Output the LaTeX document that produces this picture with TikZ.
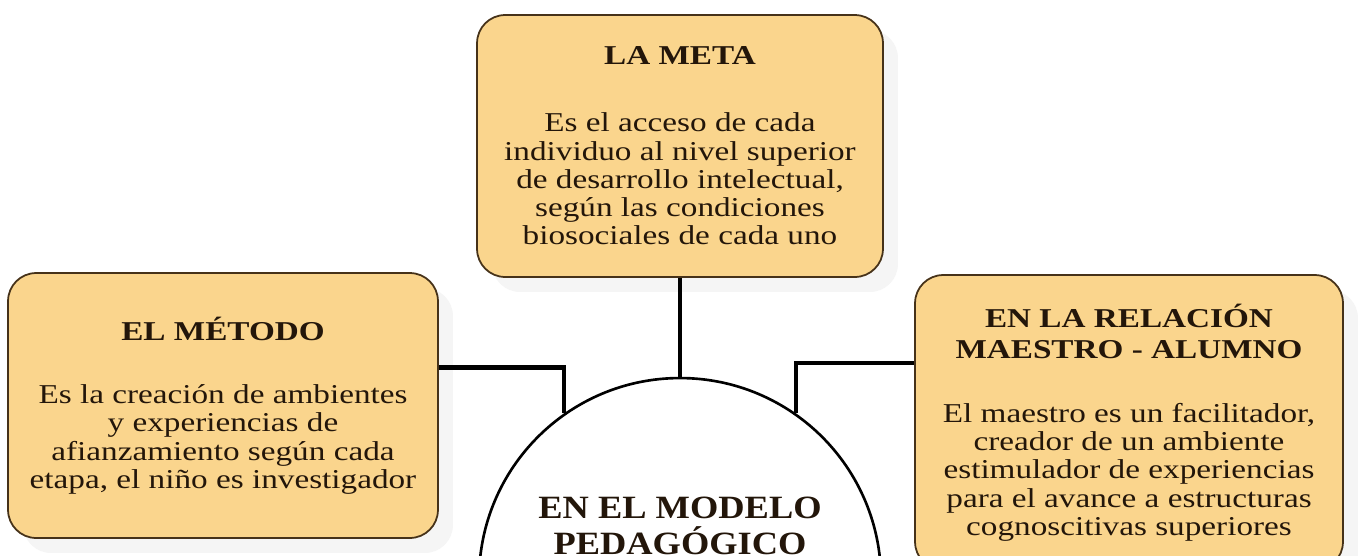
\documentclass[tikz,border=0pt]{standalone}
\usepackage{fontspec}
\setmainfont{Liberation Serif}[FakeStretch=1.22]
\newfontfamily\circulofont{Liberation Serif}[FakeStretch=1.12]
\usetikzlibrary{positioning,shadows}

\definecolor{cajafondo}{RGB}{250,213,141}
\definecolor{cajaborde}{RGB}{70,50,25}
\definecolor{texto}{RGB}{35,22,10}

\begin{document}
\begin{tikzpicture}[
    x=0.02cm, y=-0.02cm,
    caja/.style={rectangle, draw=cajaborde, line width=1pt, rounded corners=16pt,
        fill=cajafondo, text=texto, align=center, inner sep=0pt,
        font=\fontsize{15.5}{16.1}\selectfont,
        drop shadow={shadow xshift=0.3cm, shadow yshift=-0.3cm, fill=black!4, opacity=1}},
    centro/.style={circle, draw=black, line width=1.5pt, fill=white, minimum size=8.04cm, inner sep=0pt},
    titulo/.style={align=center, inner sep=0pt, text=texto, font=\circulofont\fontsize{18.5}{20.5}\selectfont\bfseries},
    conector/.style={line width=2.6pt, black}
]
\useasboundingbox (0,0) rectangle (1362,555);
\clip (0,0) rectangle (1362,555);
\fill[white] (0,0) rectangle (1362,555);

% Cajas
\node[caja, minimum width=8.12cm, minimum height=5.24cm] (meta) at (680,146)
    {\textbf{LA META}\\[22pt] Es el acceso de cada\\ individuo al nivel superior\\ de desarrollo intelectual,\\ según las condiciones\\ biosociales de cada uno};
\node[caja, minimum width=8.6cm, minimum height=5.3cm] (metodo) at (223,405.5)
    {\textbf{EL MÉTODO}\\[20pt] Es la creación de ambientes\\ y experiencias de\\ afianzamiento según cada\\ etapa, el niño es investigador};
\node[caja, minimum width=8.56cm, minimum height=5.9cm] (relacion) at (1129,422.5)
    {\textbf{EN LA RELACIÓN}\\[2pt] \textbf{MAESTRO - ALUMNO}\\[20pt] El maestro es un facilitador,\\ creador de un ambiente\\ estimulador de experiencias\\ para el avance a estructuras\\ cognoscitivas superiores};

% Centro
\node[centro] (modelo) at (680,579) {};
\node[titulo, below=2.4cm of modelo.north] (modelotxt) {EN EL MODELO\\ PEDAGÓGICO};

% Conectores
\draw[conector] (meta.south) -- (modelo.north);
\draw[conector] (modelo.125) |- ([yshift=0.76cm]metodo.east);
\draw[conector] (modelo.55) |- ([yshift=1.19cm]relacion.west);

\end{tikzpicture}
\end{document}
